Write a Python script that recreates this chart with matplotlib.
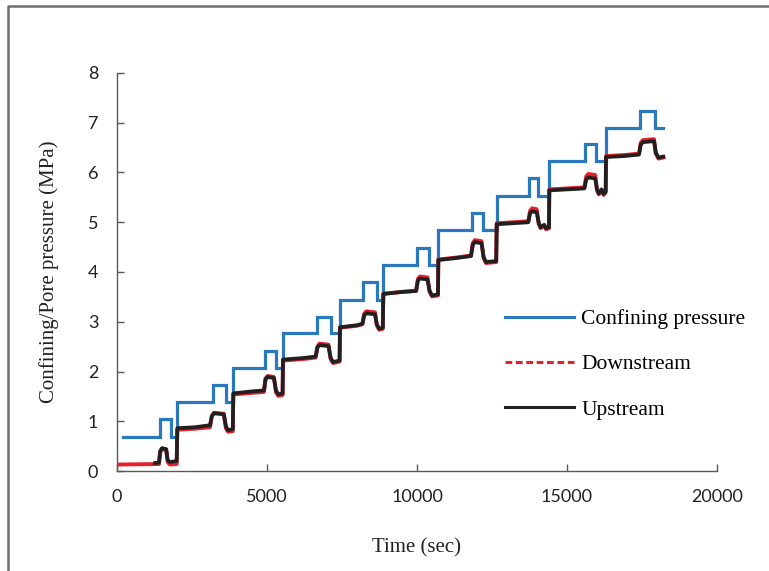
import matplotlib

matplotlib.use("Agg")
import matplotlib.pyplot as plt
import matplotlib.lines as mlines

# Confining pressure (step profile), time in seconds, pressure in MPa
conf_t = [200, 1430, 1430, 1790, 1790, 2010, 2010, 3190, 3190, 3633, 3633, 3877,
          3877, 4933, 4933, 5300, 5300, 5533, 5533, 6657, 6657, 7123, 7123, 7433,
          7433, 8200, 8200, 8657, 8657, 8877, 8877, 9990, 9990, 10410, 10410, 10710,
          10710, 11823, 11823, 12190, 12190, 12657, 12657, 13733, 13733, 14023, 14023, 14410,
          14410, 15600, 15600, 15967, 15967, 16300, 16300, 17433, 17433, 17933, 17933, 18210]
conf_p = [0.69, 0.69, 1.05, 1.05, 0.69, 0.69, 1.39, 1.39, 1.73, 1.73, 1.39, 1.39,
          2.07, 2.07, 2.42, 2.42, 2.07, 2.07, 2.77, 2.77, 3.10, 3.10, 2.77, 2.77,
          3.44, 3.44, 3.80, 3.80, 3.44, 3.44, 4.14, 4.14, 4.49, 4.49, 4.14, 4.14,
          4.84, 4.84, 5.18, 5.18, 4.84, 4.84, 5.52, 5.52, 5.88, 5.88, 5.52, 5.52,
          6.23, 6.23, 6.57, 6.57, 6.23, 6.23, 6.90, 6.90, 7.24, 7.24, 6.90, 6.90]

# Downstream pore pressure
down_t = [0, 1400, 1440, 1500, 1640, 1690, 1760, 1990, 2010,
          2600, 3100, 3160, 3230, 3560, 3630, 3700, 3860, 3877,
          4500, 4900, 4950, 5020, 5230, 5300, 5380, 5520, 5533,
          6200, 6620, 6680, 6750, 7050, 7120, 7200, 7420, 7433,
          8000, 8180, 8240, 8310, 8600, 8660, 8740, 8860, 8877,
          9500, 9970, 10030, 10100, 10350, 10420, 10500, 10700, 10710,
          11300, 11800, 11860, 11930, 12150, 12220, 12300, 12640, 12657,
          13200, 13710, 13770, 13840, 13990, 14060, 14120, 14240, 14300, 14400, 14410,
          15000, 15580, 15640, 15710, 15940, 16000, 16060, 16150, 16220, 16290, 16300,
          16900, 17400, 17460, 17530, 17900, 17960, 18050, 18210]
down_p = [0.13, 0.14, 0.38, 0.44, 0.42, 0.18, 0.13, 0.14, 0.83,
          0.85, 0.88, 1.10, 1.17, 1.15, 0.86, 0.79, 0.80, 1.54,
          1.57, 1.59, 1.86, 1.91, 1.89, 1.58, 1.51, 1.53, 2.22,
          2.25, 2.28, 2.50, 2.56, 2.54, 2.25, 2.17, 2.20, 2.88,
          2.92, 2.95, 3.16, 3.21, 3.19, 2.93, 2.84, 2.86, 3.56,
          3.60, 3.62, 3.86, 3.91, 3.89, 3.60, 3.51, 3.53, 4.25,
          4.29, 4.33, 4.58, 4.64, 4.62, 4.28, 4.18, 4.20, 4.98,
          5.00, 5.02, 5.23, 5.28, 5.26, 4.96, 4.88, 4.93, 4.86, 4.88, 5.66,
          5.68, 5.70, 5.92, 5.97, 5.95, 5.64, 5.56, 5.64, 5.55, 5.60, 6.33,
          6.35, 6.38, 6.60, 6.65, 6.67, 6.38, 6.28, 6.30]

# Upstream pore pressure
up_t = [1270, 1400, 1440, 1500, 1640, 1690, 1760, 1990, 2010,
        2600, 3100, 3160, 3230, 3560, 3630, 3700, 3860, 3877,
        4500, 4900, 4950, 5020, 5230, 5300, 5380, 5520, 5533,
        6200, 6620, 6680, 6750, 7050, 7120, 7200, 7420, 7433,
        8000, 8180, 8240, 8310, 8600, 8660, 8740, 8860, 8877,
        9500, 9970, 10030, 10100, 10350, 10420, 10500, 10700, 10710,
        11300, 11800, 11860, 11930, 12150, 12220, 12300, 12640, 12657,
        13200, 13710, 13770, 13840, 13990, 14060, 14120, 14240, 14300, 14400, 14410,
        15000, 15580, 15640, 15710, 15940, 16000, 16060, 16150, 16220, 16290, 16300,
        16900, 17400, 17460, 17530, 17900, 17960, 18050, 18210]
up_p = [0.16, 0.17, 0.40, 0.46, 0.44, 0.22, 0.18, 0.20, 0.86,
        0.88, 0.92, 1.10, 1.16, 1.14, 0.90, 0.82, 0.84, 1.56,
        1.60, 1.62, 1.84, 1.89, 1.87, 1.62, 1.54, 1.56, 2.24,
        2.27, 2.30, 2.48, 2.53, 2.51, 2.28, 2.19, 2.22, 2.89,
        2.93, 2.96, 3.13, 3.17, 3.15, 2.95, 2.86, 2.88, 3.56,
        3.60, 3.62, 3.83, 3.87, 3.85, 3.62, 3.53, 3.55, 4.24,
        4.28, 4.32, 4.55, 4.60, 4.58, 4.30, 4.20, 4.22, 4.96,
        4.98, 5.00, 5.18, 5.22, 5.20, 4.98, 4.90, 4.95, 4.88, 4.90, 5.64,
        5.66, 5.68, 5.86, 5.90, 5.88, 5.66, 5.58, 5.66, 5.57, 5.62, 6.31,
        6.33, 6.36, 6.56, 6.61, 6.63, 6.40, 6.30, 6.32]

BLUE = "#2a78bd"
RED = "#e8202a"
BLACK = "#231f20"
W, H = 769, 571

fig = plt.figure(figsize=(W / 100, H / 100), dpi=100)
ax = fig.add_axes([117 / W, 1 - 471 / H, 600 / W, 398 / H])

ax.plot(conf_t, conf_p, color=BLUE, lw=2.3, solid_joinstyle="miter", zorder=3)
ax.plot(down_t, down_p, color=RED, lw=2.8, zorder=4)
ax.plot(up_t, up_p, color=BLACK, lw=2.7, zorder=5)

ax.set_xlim(0, 20000)
ax.set_ylim(0, 8)
ax.set_xticks([0, 5000, 10000, 15000, 20000])
ax.set_yticks(range(0, 9))
ax.spines[["top", "right"]].set_visible(False)
for s in ("left", "bottom"):
    ax.spines[s].set_color("#595959")
    ax.spines[s].set_linewidth(1.0)
ax.tick_params(direction="in", length=5, width=1.0, color="#595959",
               labelsize=13, labelcolor="#222222")
ax.tick_params(axis="y", pad=13.5)
ax.tick_params(axis="x", pad=13)
for lab in ax.get_xticklabels() + ax.get_yticklabels():
    lab.set_family("Lato")

serif = "Liberation Serif"
ax.set_xlabel("Time (sec)", family=serif, fontsize=15, color="#222222", labelpad=24)
ax.set_ylabel("Confining/Pore pressure (MPa)", family=serif, fontsize=15,
              color="#222222", labelpad=21)

handles = [
    mlines.Line2D([], [], color=BLUE, lw=2.2, label="Confining pressure"),
    mlines.Line2D([], [], color=RED, lw=2.2, ls=(0, (2.2, 1.2)), label="Downstream"),
    mlines.Line2D([], [], color=BLACK, lw=2.2, label="Upstream"),
]
ax.legend(handles=handles, loc="upper left", bbox_to_anchor=(505 / W, 1 - 309 / H),
          bbox_transform=fig.transFigure, frameon=False, borderpad=0, borderaxespad=0,
          handlelength=3.2, handletextpad=0.35, labelspacing=1.17,
          prop={"family": serif, "size": 15.5})

# outer frame (only top and left edges fall inside the image)
fig.add_artist(mlines.Line2D([8 / W, 8 / W, 1.0], [0, 1 - 6 / H, 1 - 6 / H],
                             transform=fig.transFigure, color="#707070", lw=1.8))

fig.savefig("out.png", dpi=100, facecolor="white")
